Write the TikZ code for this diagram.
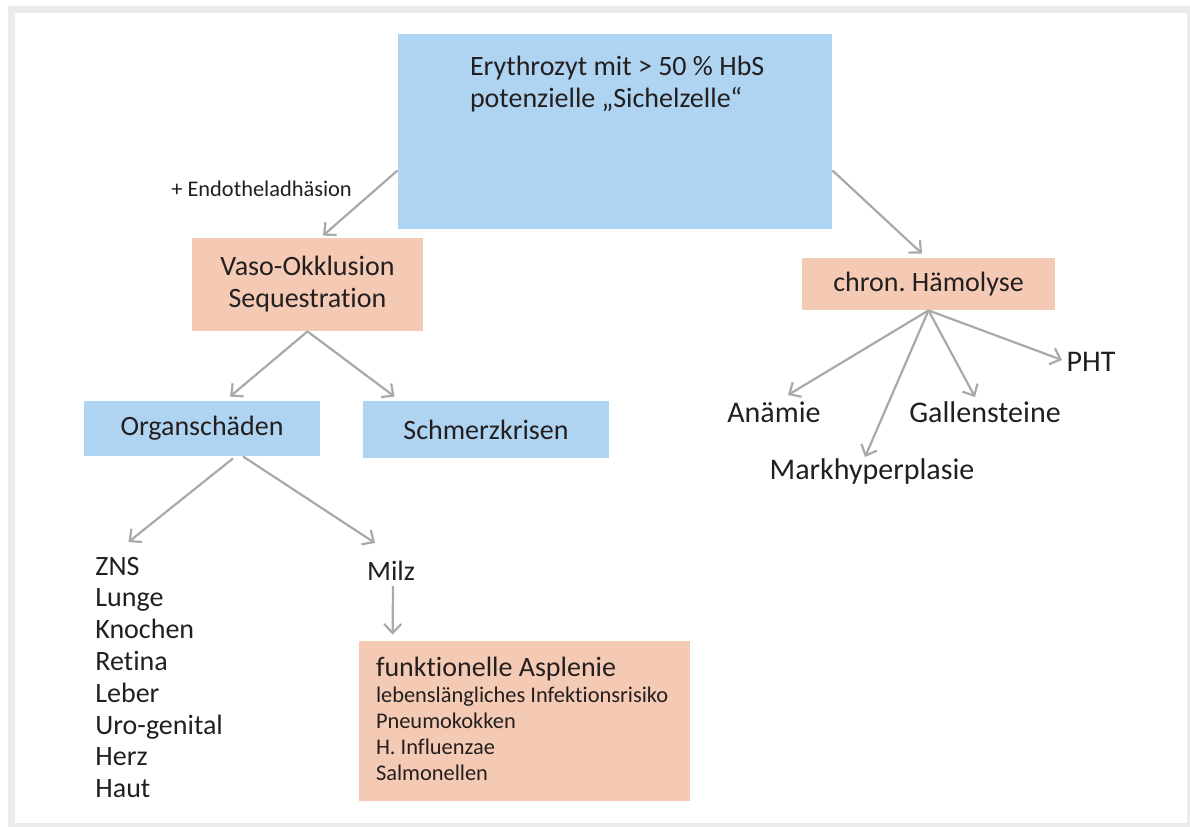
\documentclass[tikz,border=0pt]{standalone}
\usepackage{fontspec}
\setmainfont{Carlito}[RawFeature={-liga;-clig;-calt;-dlig}]
\frenchspacing
\usetikzlibrary{calc,arrows.meta}
\definecolor{boxblue}{HTML}{AFD4F1}
\definecolor{boxrose}{HTML}{F5CAB4}
\definecolor{arrowgray}{HTML}{A7A9AC}
\definecolor{framegray}{HTML}{EBEBEC}
\definecolor{textdark}{HTML}{231F20}
\tikzset{plain/.style={inner sep=0pt,text=textdark,font=\fontsize{14}{16}\selectfont}}
\tikzset{smalltext/.style={plain,font=\fontsize{11.2}{13}\selectfont}}
\tikzset{bigtext/.style={plain,font=\fontsize{15}{18}\selectfont}}
\tikzset{bluebox/.style={plain,fill=boxblue,align=center}}
\tikzset{rosebox/.style={plain,fill=boxrose,align=center}}
\tikzset{arr/.style={-{Straight Barb[length=4.5pt,width=8.5pt]},draw=arrowgray,line width=1.1pt}}

\begin{document}
\begin{tikzpicture}[x=0.5pt,y=-0.5pt]
  \useasboundingbox (0,0) rectangle (1190,826);
  \draw[framegray,line width=3.5pt] (11.5,9.5) rectangle (1190.5,826.5);

  % boxes
  \node[bluebox,minimum width=217pt,minimum height=97.5pt] (ery) at (615,131.5) {};
  \node[plain,anchor=north west,align=left] (erytext) at ($(ery.north west)+(72,22)$)
    {Erythrozyt mit > 50 \% HbS\\potenzielle „Sichelzelle“};
  \node[rosebox,minimum width=115.5pt,minimum height=46.5pt] (vaso) at (307.5,284.5) {Vaso-Okklusion\\Sequestration};
  \node[rosebox,minimum width=126.5pt,minimum height=26pt] (chron) at (928.5,284) {chron. Hämolyse};
  \node[bluebox,minimum width=118pt,minimum height=27.5pt] (organ) at (202,428.5) {Organschäden};
  \node[bluebox,minimum width=123pt,minimum height=28.5pt] (schmerz) at (486,429.5) {Schmerzkrisen};
  \node[rosebox,minimum width=165.5pt,minimum height=80pt] (asplenie) at (524.5,721) {};
  \node[smalltext,anchor=north west,align=left] (aspltext) at ($(asplenie.north west)+(17,16)$)
    {{\fontsize{14}{13}\selectfont funktionelle Asplenie}\\lebenslängliches Infektionsrisiko\\Pneumokokken\\H. Influenzae\\Salmonellen};

  % labels
  \node[bigtext] (anaemie) at (774,412) {Anämie};
  \node[bigtext] (markh) at (872,471) {Markhyperplasie};
  \node[bigtext] (galle) at (985,412) {Gallensteine};
  \node[bigtext] (pht) at (1091,362) {PHT};
  \node[plain] (milz) at (391,571) {Milz};
  \foreach \organ [count=\i] in {ZNS,Lunge,Knochen,Retina,Leber,Uro-genital,Herz,Haut}
    \node[plain,anchor=base west] (org\i) at (95,{575+31.8*(\i-1)}) {\organ};

  % connectors
  \draw[arr] ($(ery.south west)+(0,-59)$) -- node[smalltext,pos=0.25,anchor=east,xshift=-13pt,yshift=-1.25pt] {+ Endotheladhäsion} ($(vaso.north)+(15.5,-2)$);
  \draw[arr] ($(ery.south east)+(0,-59)$) -- ($(chron.north)+(-6.5,-4)$);

  \draw[arr] (chron.south) -- ($(anaemie.center)+(14,-17)$);
  \draw[arr] (chron.south) -- ($(markh.center)+(-7,-14)$);
  \draw[arr] (chron.south) -- ($(galle.center)+(-10,-15)$);
  \draw[arr] (chron.south) -- ($(pht.center)+(-29,-2)$);

  \draw[arr] (vaso.south) -- ($(organ.north)+(28,-4)$);
  \draw[arr] (vaso.south) -- ($(schmerz.north west)+(32,-4)$);

  \draw[arr] ($(organ.south)+(31,2)$) -- ($(org1.center)+(11,-24)$);
  \draw[arr] ($(organ.south)+(41,0)$) -- ($(milz.center)+(-16,-28)$);
  \draw[arr] ($(milz.center)+(2,15)$) -- ($(asplenie.north west)+(34,-6)$);
\end{tikzpicture}
\end{document}
